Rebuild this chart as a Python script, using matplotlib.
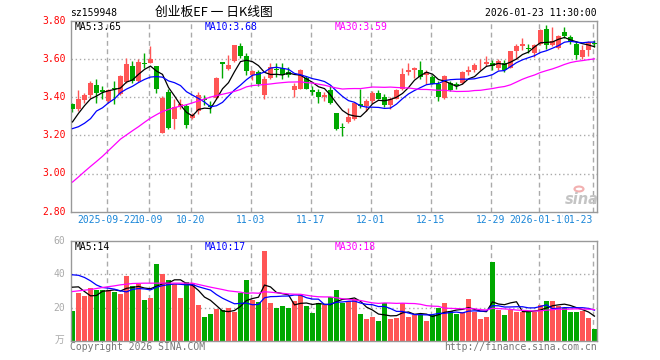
import numpy as np
import matplotlib
matplotlib.use("Agg")
import matplotlib.pyplot as plt
from matplotlib.patches import Circle

symbol = "sz159948"
title = "创业板EF 一 日K线图"
timestamp = "2026-01-23 11:30:00"

opens = [3.362, 3.339, 3.383, 3.409, 3.461, 3.435, 3.379, 3.449, 3.414, 3.478,
         3.565, 3.483, 3.577, 3.579, 3.562, 3.214, 3.426, 3.283, 3.350, 3.353,
         3.292, 3.327, 3.391, 3.357, 3.397, 3.584, 3.548, 3.588, 3.670, 3.614,
         3.518, 3.532, 3.409, 3.500, 3.548, 3.553, 3.532, 3.437, 3.443, 3.500,
         3.435, 3.426, 3.402, 3.437, 3.315, 3.243, 3.270, 3.283, 3.362, 3.353,
         3.379, 3.419, 3.400, 3.357, 3.391, 3.440, 3.530, 3.544, 3.544, 3.518,
         3.506, 3.471, 3.397, 3.475, 3.466, 3.475, 3.530, 3.541, 3.576, 3.574,
         3.579, 3.553, 3.579, 3.553, 3.640, 3.666, 3.659, 3.631, 3.680, 3.757,
         3.675, 3.657, 3.741, 3.715, 3.680, 3.610, 3.649, 3.683]
highs = [3.370, 3.435, 3.419, 3.483, 3.496, 3.457, 3.445, 3.483, 3.518, 3.605,
         3.588, 3.597, 3.631, 3.670, 3.565, 3.405, 3.440, 3.388, 3.388, 3.362,
         3.318, 3.426, 3.409, 3.379, 3.506, 3.586, 3.623, 3.675, 3.683, 3.631,
         3.541, 3.544, 3.510, 3.579, 3.579, 3.579, 3.560, 3.475, 3.548, 3.510,
         3.460, 3.440, 3.426, 3.457, 3.318, 3.263, 3.344, 3.374, 3.440, 3.391,
         3.431, 3.437, 3.414, 3.400, 3.443, 3.553, 3.579, 3.556, 3.588, 3.544,
         3.518, 3.483, 3.518, 3.483, 3.480, 3.536, 3.562, 3.579, 3.597, 3.614,
         3.593, 3.597, 3.593, 3.643, 3.680, 3.710, 3.680, 3.680, 3.757, 3.779,
         3.766, 3.727, 3.767, 3.727, 3.692, 3.675, 3.692, 3.700]
lows = [3.320, 3.327, 3.370, 3.397, 3.370, 3.388, 3.370, 3.362, 3.409, 3.475,
        3.475, 3.478, 3.553, 3.576, 3.423, 3.210, 3.231, 3.231, 3.336, 3.240,
        3.283, 3.310, 3.360, 3.318, 3.391, 3.500, 3.544, 3.583, 3.605, 3.518,
        3.490, 3.457, 3.391, 3.496, 3.506, 3.496, 3.506, 3.400, 3.440, 3.440,
        3.410, 3.370, 3.379, 3.366, 3.228, 3.197, 3.263, 3.280, 3.344, 3.327,
        3.370, 3.388, 3.350, 3.336, 3.388, 3.437, 3.518, 3.500, 3.496, 3.466,
        3.466, 3.379, 3.391, 3.431, 3.445, 3.470, 3.518, 3.530, 3.544, 3.562,
        3.541, 3.544, 3.530, 3.550, 3.600, 3.649, 3.631, 3.610, 3.675, 3.652,
        3.666, 3.652, 3.710, 3.680, 3.600, 3.600, 3.617, 3.664]
closes = [3.336, 3.388, 3.409, 3.475, 3.419, 3.428, 3.435, 3.443, 3.513, 3.574,
          3.483, 3.583, 3.572, 3.600, 3.443, 3.397, 3.240, 3.350, 3.362, 3.252,
          3.304, 3.409, 3.384, 3.350, 3.500, 3.574, 3.570, 3.671, 3.614, 3.536,
          3.536, 3.466, 3.496, 3.558, 3.541, 3.518, 3.518, 3.457, 3.541, 3.443,
          3.428, 3.402, 3.409, 3.370, 3.231, 3.238, 3.296, 3.370, 3.353, 3.379,
          3.423, 3.391, 3.357, 3.388, 3.437, 3.523, 3.544, 3.550, 3.506, 3.530,
          3.471, 3.402, 3.513, 3.437, 3.457, 3.530, 3.541, 3.570, 3.581, 3.583,
          3.562, 3.588, 3.541, 3.640, 3.666, 3.680, 3.652, 3.675, 3.750, 3.675,
          3.692, 3.722, 3.722, 3.687, 3.623, 3.645, 3.687, 3.676]
volumes = [18.0, 29.0, 27.0, 31.6, 30.6, 30.6, 30.6, 29.6, 28.2, 38.6,
           33.0, 34.0, 24.6, 26.0, 46.2, 40.2, 36.6, 34.0, 26.0, 35.0,
           34.6, 21.6, 14.2, 16.2, 19.2, 18.6, 19.6, 17.6, 28.6, 36.6,
           24.6, 23.6, 54.0, 23.0, 20.0, 21.0, 20.0, 24.0, 27.6, 21.0,
           16.6, 23.0, 21.6, 26.2, 30.6, 23.0, 24.0, 25.0, 16.2, 13.2,
           14.2, 12.0, 22.6, 13.2, 13.8, 22.6, 14.6, 15.6, 15.6, 12.0,
           15.6, 19.6, 23.0, 18.2, 16.2, 17.6, 25.0, 17.6, 13.2, 14.2,
           47.0, 18.6, 15.6, 18.6, 17.6, 17.6, 18.2, 17.6, 21.6, 24.0,
           24.0, 21.0, 19.6, 17.6, 17.6, 18.0, 14.0, 7.2]

ma5_head = [3.27, 3.315, 3.355, 3.39]
ma10_head = [3.235, 3.245, 3.263, 3.287, 3.327, 3.344, 3.370, 3.391, 3.423]
ma30_head = [2.955, 2.982, 3.010, 3.037, 3.063, 3.090, 3.120, 3.150, 3.180, 3.202,
             3.224, 3.245, 3.268, 3.290, 3.308, 3.325, 3.335, 3.345, 3.353, 3.360,
             3.370, 3.380, 3.390, 3.400, 3.408, 3.415, 3.422, 3.430, 3.440]
vma5_head = [32.2, 32.4, 29.6, 27.0]
vma10_head = [39.6, 39.3, 38.0, 36.0, 33.5, 32.0, 31.6, 31.0, 30.0]
vma30_head = [29.6, 30.0, 30.4, 30.8, 31.4, 32.0, 32.5, 33.0, 33.6, 34.0,
              34.4, 34.5, 34.6, 34.6, 34.6, 34.6, 34.6, 34.6, 34.6, 34.6,
              34.6, 33.8, 33.0, 32.2, 31.5, 30.8, 30.0, 29.6, 29.2]

tick_idx = [6, 13, 20, 30, 40, 50, 60, 70, 78, 87]
tick_labels = ["2025-09-22", "10-09", "10-20", "11-03", "11-17", "12-01",
               "12-15", "12-29", "2026-01-12", "01-23"]
price_ticks = [2.80, 3.00, 3.20, 3.40, 3.60, 3.80]
price_grid = [3.00, 3.20, 3.40, 3.60]
vol_ticks = [20, 40, 60]
vol_grid = [20, 40]
price_ma_text = ["MA5:3.65", "MA10:3.68", "MA30:3.59"]
vol_ma_text = ["MA5:14", "MA10:17", "MA30:18"]

RED = "#ff5555"
GREEN = "#00a800"
MA_COLORS = ["#000000", "#0000ff", "#ff00ff"]
MONO = "DejaVu Sans Mono"
CJK = ["Noto Sans CJK SC", "DejaVu Sans"]


def moving_average(values, n, head):
    out = list(head)
    for i in range(len(head), len(values)):
        out.append(float(np.mean(values[i - n + 1:i + 1])))
    return np.array(out)


W, H = 660, 360
fig = plt.figure(figsize=(6.6, 3.6), dpi=100)
fig.patch.set_facecolor("white")

L, R = 70.7, 597.0
ax = fig.add_axes([L / W, 1 - 211.7 / H, (R - L) / W, 191.0 / H])
axv = fig.add_axes([L / W, 1 - 341.0 / H, (R - L) / W, 100.3 / H])

x = np.arange(len(closes))
o = np.array(opens); c = np.array(closes)
hi = np.array(highs); lo = np.array(lows)
v = np.array(volumes)
up = c >= o
colors = np.where(up, RED, GREEN)

for a in (ax, axv):
    a.set_xlim(-0.3, 87.42)
    a.set_xticks([]); a.set_yticks([])
    for s in a.spines.values():
        s.set_color("#999999"); s.set_linewidth(1.0)
    for t in tick_idx:
        a.axvline(t - 0.3, color="#aaaaaa", lw=1.0, ls=(0, (3.5, 2.5)), zorder=0)

ax.set_ylim(2.80, 3.80)
axv.set_ylim(0, 60)
for g in price_grid:
    ax.axhline(g, color="#aaaaaa", lw=1.0, ls=(0, (1, 2)), zorder=0)
for g in vol_grid:
    axv.axhline(g, color="#aaaaaa", lw=1.0, ls=(0, (1, 2)), zorder=0)

# candles
ax.vlines(x, lo, hi, colors=colors, lw=1.0, zorder=2)
body_bottom = np.minimum(o, c)
body_h = np.maximum(np.abs(c - o), 0.005)
ax.bar(x, body_h, bottom=body_bottom, width=0.82, color=colors, linewidth=0, zorder=3)

# price MAs
mas = [moving_average(closes, 5, ma5_head),
       moving_average(closes, 10, ma10_head),
       moving_average(closes, 30, ma30_head)]
for m, col in zip(mas, MA_COLORS):
    ax.plot(x, m, color=col, lw=0.9, zorder=4)

# volume
axv.bar(x, v, width=0.82, color=colors, linewidth=0, zorder=2)
vmas = [moving_average(volumes, 5, vma5_head),
        moving_average(volumes, 10, vma10_head),
        moving_average(volumes, 30, vma30_head)]
for m, col in zip(vmas, MA_COLORS):
    axv.plot(x, m, color=col, lw=0.9, zorder=4)


def ftxt(px, py, s, **kw):
    fig.text(px / W, 1 - py / H, s, **kw)


FS = 7.0
# y tick labels
for p in price_ticks:
    ax.text(-(L - 65.5) / (R - L), p, f"{p:.2f}", transform=ax.get_yaxis_transform(),
            ha="right", va="center", color="#ff0000", fontsize=FS, family=MONO)
for vt in vol_ticks:
    axv.text(-(L - 65.5) / (R - L), vt, f"{vt}", transform=axv.get_yaxis_transform(),
             ha="right", va="center", color="#aaaaaa", fontsize=FS, family=MONO)
ftxt(64.5, 339.5, "万", ha="right", va="center", color="#aaaaaa", fontsize=FS, family=CJK)

# x tick labels
xt = ax.get_xaxis_transform()
for k, (t, lab) in enumerate(zip(tick_idx, tick_labels)):
    if k == len(tick_idx) - 1:
        ax.text(t - 0.3, -0.046, lab, transform=xt, ha="right", va="center",
                color="#1a86d8", fontsize=FS, family=MONO,
                bbox=dict(facecolor="white", edgecolor="none", pad=0))
    else:
        ax.text(t - 0.3, -0.046, lab, transform=xt, ha="center", va="center",
                color="#1a86d8", fontsize=FS, family=MONO)

# MA legends
for txt, px, col in zip(price_ma_text, [75, 205, 335], MA_COLORS):
    ftxt(px, 26.5, txt, ha="left", va="center", color=col, fontsize=FS, family=MONO)
for txt, px, col in zip(vol_ma_text, [75, 205, 335], MA_COLORS):
    ftxt(px, 246.5, txt, ha="left", va="center", color=col, fontsize=FS, family=MONO)

# header
ftxt(70, 13.5, symbol, ha="left", va="center", color="#000000", fontsize=FS, family=MONO)
ftxt(213.5, 12, title, ha="center", va="center", color="#000000", fontsize=9.2, family=CJK)
ftxt(597, 13, timestamp, ha="right", va="center", color="#000000", fontsize=FS, family=MONO)

# footer
ftxt(70, 346.5, "Copyright 2026 SINA.COM", ha="left", va="center", color="#777777",
     fontsize=FS, family=MONO)
ftxt(597, 346.5, "http://finance.sina.com.cn", ha="right", va="center", color="#777777",
     fontsize=FS, family=MONO)

# sina watermark
ftxt(582, 199, "sina", ha="center", va="center", color="#c4c4c4", fontsize=10.5,
     fontweight="bold", style="italic", family="DejaVu Sans")
fig.patches.append(Circle((579 / W, 1 - 189 / H), 4.5 / W, transform=fig.transFigure,
                          facecolor="none", edgecolor="#f2b0b0", lw=1.5))

fig.savefig("out.png", dpi=100, facecolor="white")
